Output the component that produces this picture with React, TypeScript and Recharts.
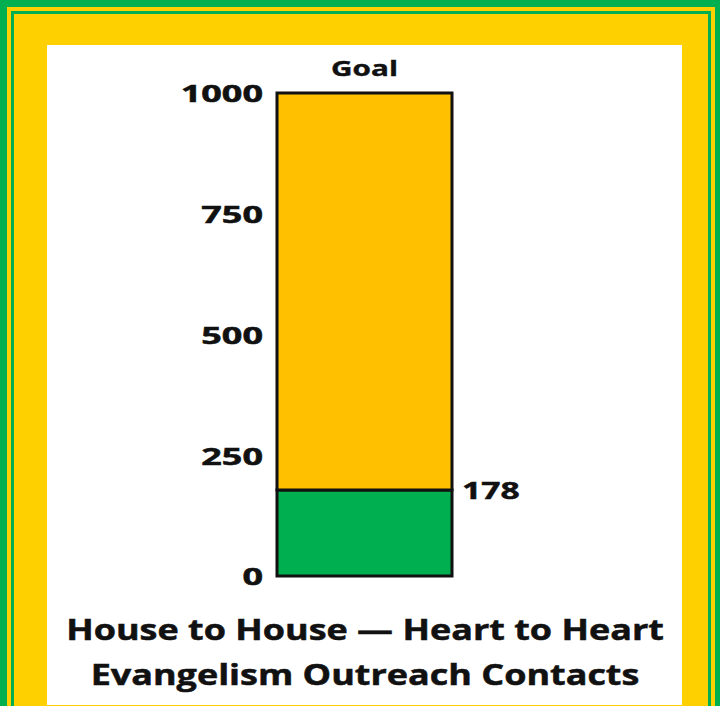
import { BarChart, Bar, XAxis, YAxis, LabelList } from 'recharts';

// one stacked column: what is reached, what is still left to the goal
const categories = ['Contacts'];
const reached = [178];
const remaining = [822];
const yTicks = [0, 250, 500, 750, 1000];
const goalLabel = 'Goal';
const titleLines = ['House to House — Heart to Heart', 'Evangelism Outreach Contacts'];

const GREEN = '#00B050';
const YELLOW = '#FFC000';
const FRAME_YELLOW = '#FFD000';
const FONT = '"Open Sans", sans-serif';
const INK = '#111';

const data = categories.map((name, i) => ({ name, reached: reached[i], remaining: remaining[i] }));

function Tick(props: any) {
  const { x, y, payload } = props;
  return (
    <text
      x={0}
      y={0}
      transform={`translate(${x},${y}) scale(1.5,1)`}
      textAnchor="end"
      dominantBaseline="central"
      fontFamily={FONT}
      fontWeight={700}
      fontSize={24}
      fill={INK}
      stroke={INK}
      strokeWidth={0.5}
    >
      {payload.value}
    </text>
  );
}

function ReachedLabel(props: any) {
  const { x, y, width, value } = props;
  return (
    <text
      x={0}
      y={0}
      transform={`translate(${x + width + 10},${y}) scale(1.4,1)`}
      dominantBaseline="central"
      fontFamily={FONT}
      fontWeight={700}
      fontSize={24}
      fill={INK}
      stroke={INK}
      strokeWidth={0.5}
    >
      {value}
    </text>
  );
}

function GoalLabel(props: any) {
  const { x, y, width } = props;
  return (
    <text
      x={0}
      y={0}
      transform={`translate(${x + width / 2},${y - 25}) scale(1.35,1)`}
      textAnchor="middle"
      dominantBaseline="central"
      fontFamily={FONT}
      fontWeight={700}
      fontSize={22}
      fill={INK}
      stroke={INK}
      strokeWidth={0.4}
    >
      {goalLabel}
    </text>
  );
}

export default function App() {
  const box = (l: number, t: number, r: number, b: number, bg: string) => (
    <div style={{ position: 'absolute', left: l, top: t, width: r - l, height: b - t, background: bg }} />
  );
  return (
    <div style={{ position: 'fixed', left: 0, top: 0, width: 720, height: 706, overflow: 'hidden', background: GREEN }}>
      {box(7, 7, 715, 712, FRAME_YELLOW)}
      {box(11, 11, 711, 712, GREEN)}
      {box(14, 14, 708, 712, FRAME_YELLOW)}
      {box(47, 45, 682, 705, '#fff')}
      <div style={{ position: 'absolute', left: 0, top: 0 }}>
        <BarChart
          width={720}
          height={706}
          data={data}
          margin={{ top: 93, right: 268, bottom: 130, left: 0 }}
          barCategoryGap={0}
        >
          <XAxis dataKey="name" hide />
          <YAxis
            width={277}
            domain={[0, 1000]}
            ticks={yTicks}
            axisLine={false}
            tickLine={false}
            tickSize={0}
            tickMargin={14}
            tick={<Tick />}
          />
          <Bar dataKey="reached" stackId="a" fill={GREEN} stroke={INK} strokeWidth={3} isAnimationActive={false}>
            <LabelList dataKey="reached" content={<ReachedLabel />} />
          </Bar>
          <Bar dataKey="remaining" stackId="a" fill={YELLOW} stroke={INK} strokeWidth={3} isAnimationActive={false}>
            <LabelList dataKey="remaining" content={<GoalLabel />} />
          </Bar>
        </BarChart>
      </div>
      {titleLines.map((line, i) => (
        <div
          key={line}
          style={{
            position: 'absolute',
            left: 0,
            width: 730,
            top: 609 + i * 45,
            textAlign: 'center',
            fontFamily: FONT,
            fontWeight: 700,
            fontSize: 29,
            lineHeight: '40px',
            color: INK,
            WebkitTextStroke: '0.5px #111',
            transform: 'scaleX(1.24)',
            whiteSpace: 'nowrap',
          }}
        >
          {line}
        </div>
      ))}
    </div>
  );
}
